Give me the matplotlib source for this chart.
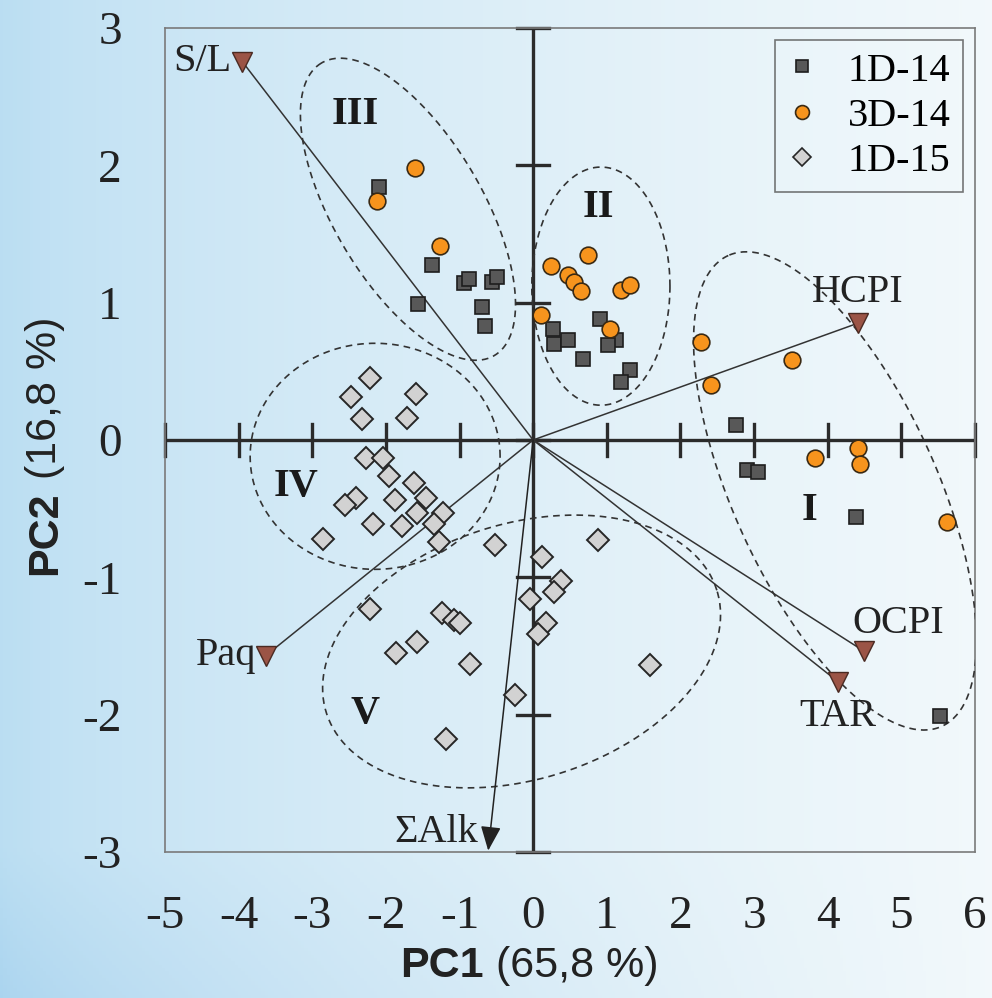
import numpy as np
import matplotlib.pyplot as plt
from matplotlib.lines import Line2D

# ---- data ----
sq_x = [-2.10, -1.37, -0.94, -0.87, -0.56, -0.49, -1.56, -0.69, -0.66, 0.275, 0.28, 0.47,
        0.91, 1.12, 1.02, 0.68, 1.31, 1.19, 2.76, 2.90, 3.05, 4.39, 5.52]
sq_y = [1.845, 1.275, 1.14, 1.17, 1.15, 1.19, 0.99, 0.97, 0.83, 0.81, 0.70, 0.73,
        0.88, 0.73, 0.69, 0.59, 0.51, 0.42, 0.11, -0.22, -0.23, -0.56, -2.01]

circ_x = [-1.60, -2.12, -1.26, 0.10, 0.24, 0.75, 0.47, 0.55, 0.65, 1.20, 1.32, 1.05,
          2.28, 3.52, 2.42, 3.83, 4.41, 4.44, 5.62]
circ_y = [1.98, 1.74, 1.41, 0.91, 1.27, 1.35, 1.20, 1.15, 1.085, 1.09, 1.13, 0.81,
          0.71, 0.58, 0.40, -0.13, -0.06, -0.175, -0.595]

dia_x = [-2.22, -2.48, -1.59, -2.33, -1.71, -2.27, -2.04, -1.955, -1.62, -2.40, -2.555,
         -1.88, -1.455, -1.58, -1.22, -1.35, -2.18, -1.78, -1.28, -2.86, -0.52, 0.12,
         0.375, 0.28, -0.04, 0.18, 0.06, -2.21, -1.24, -1.08, -0.99, -1.58, -1.86,
         -0.86, -0.25, -1.19, 0.875, 1.59]
dia_y = [0.45, 0.315, 0.335, 0.15, 0.16, -0.13, -0.13, -0.26, -0.31, -0.425, -0.47,
         -0.44, -0.425, -0.53, -0.53, -0.61, -0.61, -0.63, -0.74, -0.72, -0.765, -0.85,
         -1.025, -1.105, -1.16, -1.335, -1.41, -1.23, -1.26, -1.31, -1.33, -1.47, -1.55,
         -1.63, -1.86, -2.18, -0.73, -1.64]

load_names = ["S/L", "HCPI", "OCPI", "TAR", "Paq"]
load_x = [-3.95, 4.41, 4.50, 4.14, -3.63]
load_y = [2.755, 0.85, -1.54, -1.76, -1.57]
# label offsets (points) and alignment
load_off = [(-8, 0), (0, 22), (24, 20), (0, -25), (-7, 0)]
load_ha = ["right", "center", "center", "center", "right"]

alk_name = "ΣAlk"
alk_x, alk_y = -0.61, -2.99

# groups: centre x, centre y, semi-axis a, semi-axis b, angle (deg, visual)
grp_names = ["I", "II", "III", "IV", "V"]
grp_cx = [4.10, 0.92, -1.70, -2.146, -0.157]
grp_cy = [-0.371, 1.12, 1.68, -0.119, -1.54]
grp_a = [1.882, 0.503, 1.237, 0.910, 1.49]
grp_b = [0.742, 0.867, 0.541, 0.823, 0.93]
grp_ang = [114.4, 0.0, 120.6, 0.0, 17.4]
grp_lx = [3.75, 0.88, -2.42, -3.22, -2.28]
grp_ly = [-0.51, 1.69, 2.37, -0.34, -1.99]

xticks = list(range(-5, 7))
yticks = list(range(-3, 4))

serif = ["Liberation Serif", "DejaVu Serif"]
sans = ["Liberation Sans", "DejaVu Sans"]

fig = plt.figure(figsize=(9.92, 9.98), dpi=100)

# background gradient
bg = fig.add_axes([0, 0, 1, 1], zorder=-10)
gx, gy = np.meshgrid(np.linspace(0, 1, 300), np.linspace(0, 1, 300))
left = np.array([0.73, 0.87, 0.95])
right = np.array([0.95, 0.975, 0.985])
s = np.clip(gx ** 0.7, 0, 1)[..., None]
img = left * (1 - s) + right * s
bottom = np.clip((gy - 0.85) / 0.15, 0, 1)[..., None] * (1 - s) * 0.06
img = np.clip(img - bottom * np.array([1.0, 0.6, 0.2]), 0, 1)
bg.imshow(img, aspect="auto", extent=[0, 1, 0, 1], origin="upper")
bg.axis("off")

ax = fig.add_axes([0.1663, 0.1463, 0.8165, 0.8257])
ax.patch.set_alpha(0)
ax.set_xlim(-5, 6)
ax.set_ylim(-3, 3)
for sp in ax.spines.values():
    sp.set_color("#7a7a7a")
    sp.set_linewidth(1.2)

ax.set_xticks(xticks)
ax.set_yticks(yticks)
ax.set_xticklabels([str(v) for v in xticks], family=serif, fontsize=34)
ax.set_yticklabels([str(v) for v in yticks], family=serif, fontsize=34)
ax.tick_params(axis="x", length=0, pad=31, colors="#222222")
ax.tick_params(axis="y", length=0, pad=31, colors="#222222")

# crosshair axes with ticks
ax.axhline(0, color="#2b2b2b", lw=2.4, zorder=2)
ax.axvline(0, color="#2b2b2b", lw=2.4, zorder=2)
bbox = ax.get_position()
px_x = bbox.width * fig.get_figwidth() * fig.dpi / 11
px_y = bbox.height * fig.get_figheight() * fig.dpi / 6
k = px_x / px_y
for xt in xticks:
    ax.plot([xt, xt], [-16 / px_y, 16 / px_y], color="#2b2b2b", lw=2.4, clip_on=False, zorder=2)
for yt in yticks:
    ax.plot([-16 / px_x, 16 / px_x], [yt, yt], color="#2b2b2b", lw=2.4, clip_on=False, zorder=2)

# group ellipses
t = np.linspace(0, 2 * np.pi, 300)
for cx, cy, a, b, ang, name, lx, ly in zip(grp_cx, grp_cy, grp_a, grp_b, grp_ang,
                                           grp_names, grp_lx, grp_ly):
    phi = np.radians(ang)
    u = a * np.cos(t) * np.cos(phi) - b * np.sin(t) * np.sin(phi)
    v = a * np.cos(t) * np.sin(phi) + b * np.sin(t) * np.cos(phi)
    ax.plot(cx + u / k, cy + v, color="#333333", lw=1.2, dashes=(4, 3), zorder=3)
    ax.text(lx, ly, name, family=serif, fontsize=29, fontweight="bold",
            ha="center", va="center", color="#1a1a1a", zorder=6)

# loading vectors
for name, x, y, off, ha in zip(load_names, load_x, load_y, load_off, load_ha):
    ax.plot([0, x], [0, y], color="#333333", lw=1.1, zorder=4)
    ax.plot(x, y, marker="v", ms=15, mfc="#9b5446", mec="#4a2a22", mew=1.0, zorder=7)
    ax.annotate(name, (x, y), xytext=off, textcoords="offset points", ha=ha,
                va="center", family=serif, fontsize=29, color="#222222", zorder=8)

ax.annotate("", xy=(alk_x, alk_y), xytext=(0, 0),
            arrowprops=dict(arrowstyle="-|>,head_length=0.6,head_width=0.25",
                            color="#222222", lw=1.1, mutation_scale=25,
                            shrinkA=0, shrinkB=0), zorder=4)
ax.annotate(alk_name, (alk_x, alk_y), xytext=(-7, 13), textcoords="offset points",
            ha="right", va="center", family=serif, fontsize=29, color="#222222")

# samples
ax.plot(sq_x, sq_y, "s", ms=10.5, mfc="#585858", mec="#1e1e1e", mew=1.2, zorder=5)
ax.plot(circ_x, circ_y, "o", ms=12, mfc="#f7941d", mec="#3a2a14", mew=1.2, zorder=5)
ax.plot(dia_x, dia_y, "D", ms=11, mfc="#d2d2d2", mec="#262626", mew=1.4, zorder=5)

handles = [
    Line2D([], [], ls="none", marker="s", ms=9, mfc="#585858", mec="#1e1e1e", mew=1.2),
    Line2D([], [], ls="none", marker="o", ms=10, mfc="#f7941d", mec="#3a2a14", mew=1.2),
    Line2D([], [], ls="none", marker="D", ms=9, mfc="#d2d2d2", mec="#262626", mew=1.2),
]
leg = ax.legend(handles, ["1D-14", "3D-14", "1D-15"], loc="upper right",
                bbox_to_anchor=(0.985, 0.985), borderaxespad=0, fancybox=False,
                edgecolor="#555555", facecolor="none", framealpha=None,
                prop={"family": serif, "size": 29}, handlelength=0.7,
                handletextpad=0.8, labelspacing=0.2, borderpad=0.3)
leg.get_frame().set_linewidth(1.2)
leg.set_zorder(9)

# axis titles: bold part + regular part
tx = fig.text(400 / 992, 1 - 966 / 998, "PC1", family=sans, fontsize=31,
              fontweight="bold", ha="left", va="center", color="#222222")
ax.annotate(" (65,8 %)", xy=(1, 0.5), xycoords=tx, ha="left", va="center",
            family=sans, fontsize=31, color="#222222", annotation_clip=False)
ty = fig.text(45 / 992, 1 - 575 / 998, "PC2", family=sans, fontsize=31,
              fontweight="bold", ha="center", va="bottom", rotation=90, color="#222222")
ax.annotate(" (16,8 %)", xy=(0.5, 1), xycoords=ty, ha="center", va="bottom",
            rotation=90, family=sans, fontsize=31, color="#222222", annotation_clip=False)

fig.savefig("out.png", dpi=100)
